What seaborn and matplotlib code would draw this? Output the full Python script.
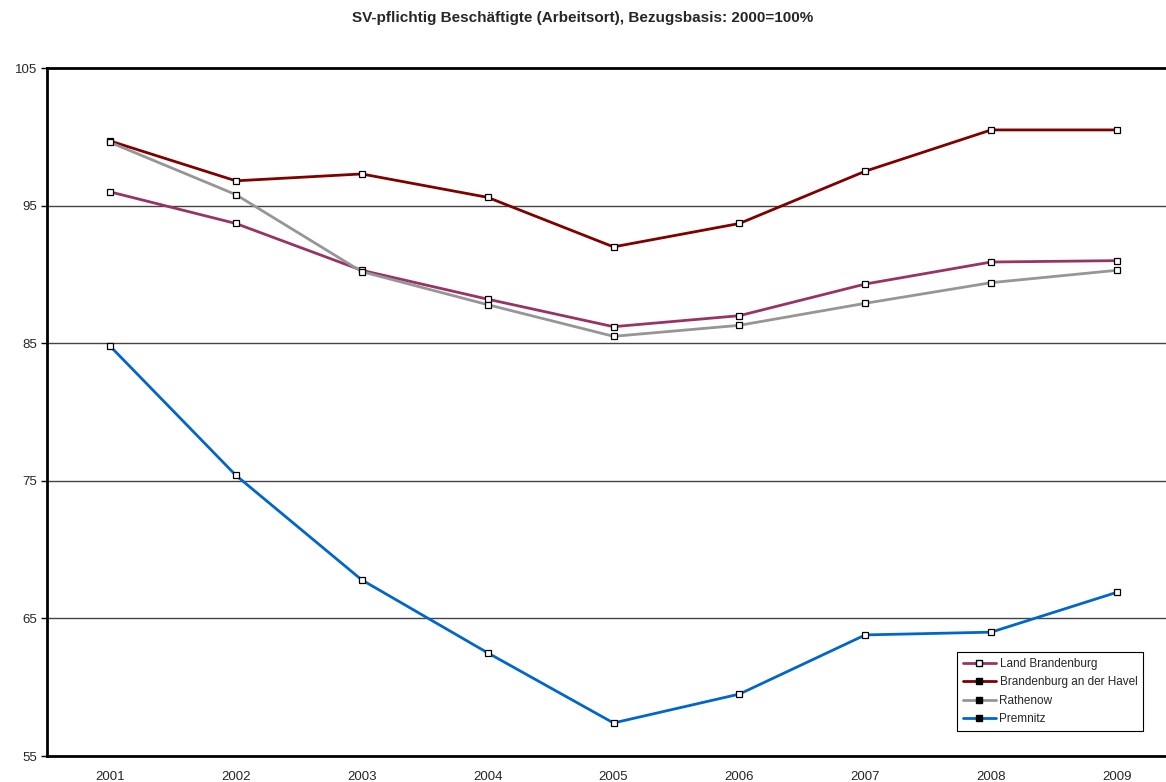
import pandas as pd
import seaborn as sns
import matplotlib.pyplot as plt
from matplotlib.lines import Line2D

# Data (index, 2000 = 100%)
years = ["2001", "2002", "2003", "2004", "2005", "2006", "2007", "2008", "2009"]
land_brandenburg = [96.0, 93.7, 90.3, 88.2, 86.2, 87.0, 89.3, 90.9, 91.0]
brandenburg_havel = [99.7, 96.8, 97.3, 95.6, 92.0, 93.7, 97.5, 100.5, 100.5]
rathenow = [99.6, 95.8, 90.2, 87.8, 85.5, 86.3, 87.9, 89.4, 90.3]
premnitz = [84.8, 75.4, 67.8, 62.5, 57.4, 59.5, 63.8, 64.0, 66.9]

series = ["Land Brandenburg", "Brandenburg an der Havel", "Rathenow", "Premnitz"]
colors = ["#993366", "#800000", "#969696", "#0066CC"]

df = pd.DataFrame({
    "Jahr": years * 4,
    "Wert": land_brandenburg + brandenburg_havel + rathenow + premnitz,
    "Gebiet": [s for s in series for _ in years],
})
df["x"] = df["Jahr"].map({y: i for i, y in enumerate(years)})

sns.set_style("white")
plt.rcParams["font.family"] = ["Liberation Sans", "DejaVu Sans"]

fig = plt.figure(figsize=(11.66, 7.82), dpi=100)
ax = fig.add_axes([47 / 1166, 1 - 756 / 782, 1133 / 1166, 688 / 782])

# horizontal grid lines
for g in [65, 75, 85, 95]:
    ax.axhline(g, color="#444444", lw=1.0, zorder=0)

sns.lineplot(data=df, x="x", y="Wert", hue="Gebiet", hue_order=series,
             palette=colors, marker="s", markersize=5, markerfacecolor="white",
             markeredgecolor="black", markeredgewidth=0.9, linewidth=2,
             legend=False, ax=ax, zorder=3)

ax.set_xlim(-0.5, 8.5)
ax.set_ylim(55, 105)
ax.set_yticks([55, 65, 75, 85, 95, 105])
ax.set_xticks(range(len(years)))
ax.set_xticklabels(years)
ax.set_xticks([i - 0.5 for i in range(len(years) + 1)], minor=True)
ax.tick_params(axis="x", which="major", length=0, pad=11, labelsize=9.5)
ax.tick_params(axis="x", which="minor", length=4, width=1, direction="out", color="black")
ax.tick_params(axis="y", length=4, width=1, direction="out", color="black",
               labelsize=9.5, left=True, pad=3)
ax.set_xlabel("")
ax.set_ylabel("")

for side in ["left", "top", "bottom"]:
    ax.spines[side].set_color("black")
    ax.spines[side].set_linewidth(2)
ax.spines["right"].set_visible(False)

fig.suptitle("SV-pflichtig Beschäftigte (Arbeitsort), Bezugsbasis: 2000=100%",
             y=1 - 18 / 782, va="center", fontsize=11, fontweight="bold")

handles = []
for i, (s, c) in enumerate(zip(series, colors)):
    face = "white" if i == 0 else "black"
    handles.append(Line2D([], [], color=c, lw=2, marker="s", markersize=4.5,
                          markerfacecolor=face, markeredgecolor="black"))
leg = fig.legend(handles, series, loc="upper left",
                 bbox_to_anchor=(957 / 1166, 1 - 652 / 782),
                 borderaxespad=0,
                 fontsize=8.5, frameon=True, fancybox=False, framealpha=1,
                 edgecolor="black", handlelength=2.8, handletextpad=0.3,
                 borderpad=0.5, labelspacing=0.55)
leg.get_frame().set_linewidth(0.8)

fig.savefig("out.png", dpi=100)
